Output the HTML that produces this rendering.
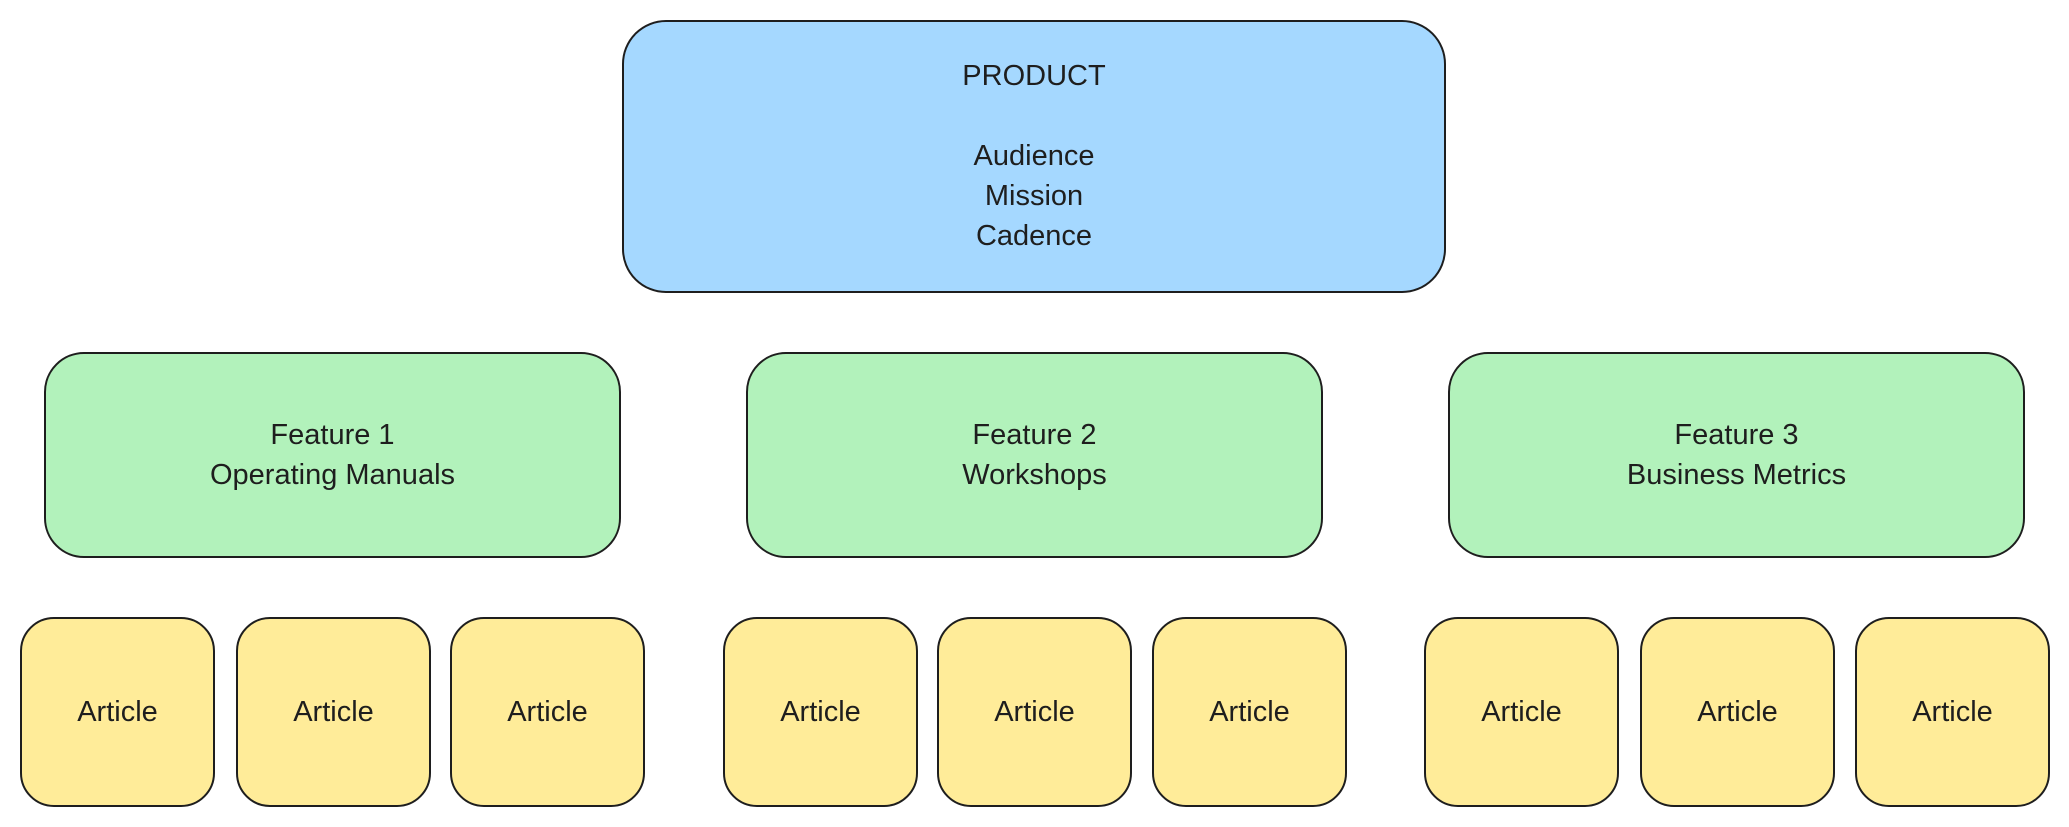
<!DOCTYPE html>
<html><head><style>
html,body{margin:0;padding:0;background:#fff;width:2069px;height:827px;overflow:hidden;position:relative}
.b{position:absolute;box-sizing:border-box;border:2.5px solid #1e1e1e;display:flex;flex-direction:column;align-items:center;justify-content:center;font-family:"Liberation Sans",sans-serif;font-size:29px;color:#1e1e1e;line-height:40px;text-align:center}
.p{background:#a5d8ff;border-radius:44px}
.f{background:#b2f2bb;border-radius:40px}
.a{background:#ffec99;border-radius:34px;top:617px;height:190px;width:195px}
</style></head><body>
<div class="b p" style="left:622px;top:20px;width:824px;height:273px;justify-content:flex-start;padding-top:34px">
<div>PRODUCT</div><div>&nbsp;</div><div>Audience</div><div>Mission</div><div>Cadence</div></div>
<div class="b f" style="left:44px;top:352px;width:577px;height:206px"><div>Feature 1</div><div>Operating Manuals</div></div>
<div class="b f" style="left:746px;top:352px;width:577px;height:206px"><div>Feature 2</div><div>Workshops</div></div>
<div class="b f" style="left:1448px;top:352px;width:577px;height:206px"><div>Feature 3</div><div>Business Metrics</div></div>
<div class="b a" style="left:20px">Article</div>
<div class="b a" style="left:236px">Article</div>
<div class="b a" style="left:450px">Article</div>
<div class="b a" style="left:723px">Article</div>
<div class="b a" style="left:937px">Article</div>
<div class="b a" style="left:1152px">Article</div>
<div class="b a" style="left:1424px">Article</div>
<div class="b a" style="left:1640px">Article</div>
<div class="b a" style="left:1855px">Article</div>
</body></html>
